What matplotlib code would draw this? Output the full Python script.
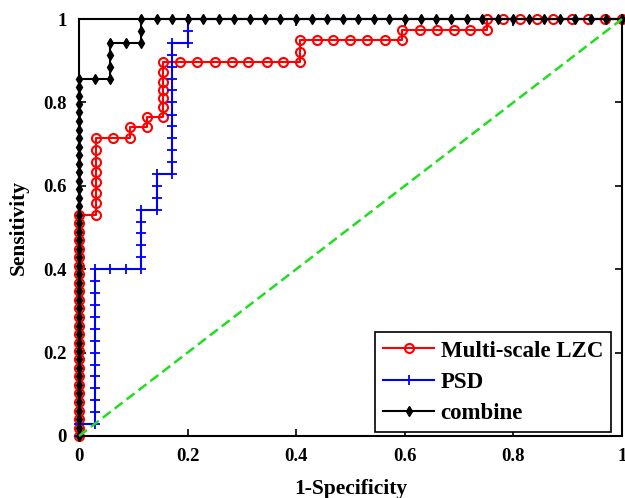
import numpy as np
import matplotlib
matplotlib.use('Agg')
import matplotlib.pyplot as plt

# ROC 曲线数据 (1-Specificity, Sensitivity)
lzc_fpr = [0, 0, 0, 0, 0, 0, 0, 0, 0, 0, 0, 0, 0, 0, 0, 0, 0, 0, 0, 0, 0, 0, 0, 0, 0, 0, 0,
           0.031, 0.031, 0.031, 0.031, 0.031, 0.031, 0.031, 0.031,
           0.063, 0.094, 0.094, 0.125, 0.125, 0.155,
           0.155, 0.155, 0.155, 0.155, 0.155, 0.155,
           0.186, 0.217, 0.25, 0.281, 0.312, 0.346, 0.376, 0.407,
           0.407, 0.407,
           0.438, 0.468, 0.499, 0.53, 0.564, 0.594,
           0.594,
           0.628, 0.659, 0.69, 0.72, 0.751,
           0.751,
           0.781, 0.812, 0.843, 0.873, 0.907, 0.938, 0.968, 1.0]
lzc_tpr = [0, 0.02, 0.041, 0.061, 0.082, 0.102, 0.122, 0.143, 0.163, 0.184, 0.204, 0.224,
           0.245, 0.265, 0.286, 0.306, 0.327, 0.347, 0.367, 0.388, 0.408, 0.429, 0.449,
           0.469, 0.49, 0.51, 0.53,
           0.53, 0.558, 0.582, 0.61, 0.634, 0.658, 0.686, 0.714,
           0.714, 0.714, 0.742, 0.742, 0.766, 0.766,
           0.79, 0.81, 0.83, 0.85, 0.874, 0.896,
           0.896, 0.896, 0.896, 0.896, 0.896, 0.896, 0.896, 0.896,
           0.922, 0.95,
           0.95, 0.95, 0.95, 0.95, 0.95, 0.95,
           0.974,
           0.974, 0.974, 0.974, 0.974, 0.974,
           1.0,
           1.0, 1.0, 1.0, 1.0, 1.0, 1.0, 1.0, 1.0]

psd_fpr = [0, 0, 0.029,
           0.029, 0.029, 0.029, 0.029, 0.029, 0.029, 0.029, 0.029, 0.029, 0.029, 0.029,
           0.029, 0.029,
           0.057, 0.086, 0.114,
           0.114, 0.114, 0.114, 0.114, 0.114,
           0.143, 0.143, 0.143, 0.143,
           0.171, 0.171, 0.171, 0.171, 0.171, 0.171, 0.171, 0.171, 0.171, 0.171, 0.171,
           0.171,
           0.2, 0.2, 0.2, 1.0]
psd_tpr = [0, 0.029, 0.029,
           0.057, 0.086, 0.114, 0.143, 0.171, 0.2, 0.229, 0.257, 0.286, 0.314, 0.343,
           0.371, 0.4,
           0.4, 0.4, 0.4,
           0.429, 0.457, 0.486, 0.514, 0.543,
           0.543, 0.571, 0.6, 0.629,
           0.629, 0.657, 0.686, 0.714, 0.743, 0.771, 0.8, 0.829, 0.857, 0.886, 0.914,
           0.943,
           0.943, 0.971, 1.0, 1.0]

comb_fpr = [0, 0, 0, 0, 0, 0, 0, 0, 0, 0, 0, 0, 0, 0, 0, 0, 0, 0, 0, 0, 0, 0, 0, 0, 0,
            0, 0, 0, 0, 0, 0, 0, 0, 0, 0, 0, 0, 0, 0, 0, 0, 0, 0,
            0.029, 0.057, 0.057, 0.057, 0.057, 0.086, 0.114, 0.114, 0.114,
            0.143, 0.171, 0.2, 0.229, 0.257, 0.286, 0.314, 0.343, 0.371, 0.4, 0.429,
            0.457, 0.486, 0.514, 0.543, 0.571, 0.6, 0.629, 0.657, 0.686, 0.714, 0.743,
            0.771, 0.8, 0.829, 0.857, 0.886, 0.914, 0.943, 0.971, 1.0]
comb_tpr = [0, 0.02, 0.041, 0.061, 0.082, 0.102, 0.122, 0.143, 0.163, 0.184, 0.204, 0.224,
            0.245, 0.265, 0.286, 0.306, 0.327, 0.347, 0.367, 0.388, 0.408, 0.429, 0.449,
            0.469, 0.49, 0.51, 0.531, 0.551, 0.571, 0.592, 0.612, 0.633, 0.653, 0.673,
            0.694, 0.714, 0.735, 0.755, 0.776, 0.796, 0.816, 0.837, 0.857,
            0.857, 0.857, 0.886, 0.914, 0.943, 0.943, 0.943, 0.971, 1.0,
            1.0, 1.0, 1.0, 1.0, 1.0, 1.0, 1.0, 1.0, 1.0, 1.0, 1.0,
            1.0, 1.0, 1.0, 1.0, 1.0, 1.0, 1.0, 1.0, 1.0, 1.0, 1.0,
            1.0, 1.0, 1.0, 1.0, 1.0, 1.0, 1.0, 1.0, 1.0]

ticks = [0, 0.2, 0.4, 0.6, 0.8, 1]
tick_labels = ['0', '0.2', '0.4', '0.6', '0.8', '1']

plt.rcParams['font.family'] = ['Liberation Serif', 'DejaVu Serif']
plt.rcParams['font.weight'] = 'bold'

fig = plt.figure(figsize=(6.25, 4.98), dpi=100)
ax = fig.add_axes([0.1264, 0.1245, 0.8688, 0.8373])

ax.plot(lzc_fpr, lzc_tpr, '-o', color='red', lw=1.5, ms=6.5, mew=1.5,
        mfc='none', label='Multi-scale LZC', clip_on=False)
ax.plot(psd_fpr, psd_tpr, '-+', color='blue', lw=1.5, ms=6.5, mew=1.3,
        label='PSD', clip_on=False)
ax.plot(comb_fpr, comb_tpr, '-d', color='black', lw=1.5, ms=5.5, mew=1,
        label='combine', clip_on=False)
# 参考对角线
ax.plot([0, 1], [0, 1], '--', color='#22dd22', lw=1.8, dashes=(4, 2), zorder=5,
        clip_on=False)

ax.set_xlim(0, 1)
ax.set_ylim(0, 1)
ax.set_xticks(ticks)
ax.set_xticklabels(tick_labels)
ax.set_yticks(ticks)
ax.set_yticklabels(tick_labels)
ax.tick_params(direction='in', length=5, width=1.2, labelsize=13.5, pad=9,
               top=True, right=True)
for s in ax.spines.values():
    s.set_linewidth(1.5)

ax.set_xlabel('1-Specificity', fontsize=15.5, fontweight='bold', labelpad=10)
ax.set_ylabel('Sensitivity', fontsize=15.5, fontweight='bold', labelpad=10)

leg = ax.legend(loc='lower right', bbox_to_anchor=(0.98, 0.009), fontsize=16.5,
                frameon=True, fancybox=False, edgecolor='black', framealpha=1,
                handlelength=2.2, labelspacing=0.45, borderpad=0.35,
                handletextpad=0.3, borderaxespad=0)
leg.get_frame().set_linewidth(1.2)

fig.savefig('out.png', dpi=100)
